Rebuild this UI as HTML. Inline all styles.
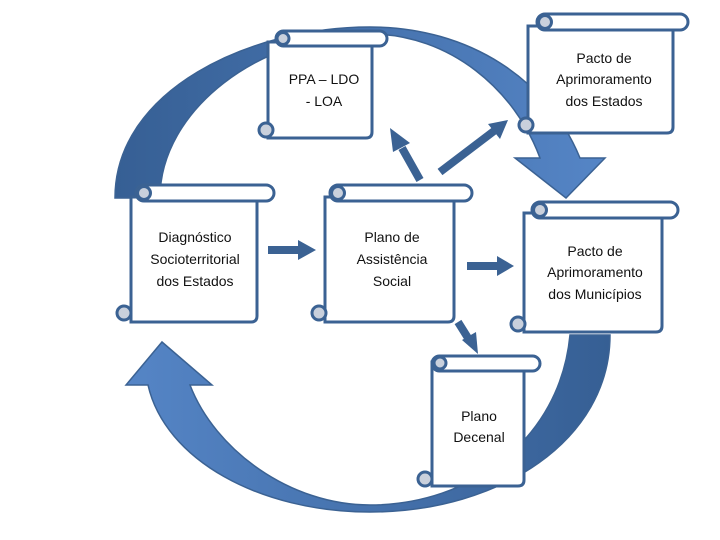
<!DOCTYPE html>
<html><head><meta charset="utf-8"><style>
body{margin:0;background:#fff;width:720px;height:540px;overflow:hidden}
svg{display:block}
text{font-family:"Liberation Sans",sans-serif;font-size:14px;fill:#111;text-anchor:middle}
</style></head><body>
<svg width="720" height="540" viewBox="0 0 720 540">
<defs>
<linearGradient id="g1" x1="0" x2="1" y1="0" y2="0"><stop offset="0" stop-color="#365f94"/><stop offset="1" stop-color="#5585c6"/></linearGradient>
<linearGradient id="g2" x1="0" x2="1" y1="0" y2="0"><stop offset="0" stop-color="#5585c6"/><stop offset="1" stop-color="#365f94"/></linearGradient>
</defs>
<path d="M115,198 C115,90 250,27 370,27 C470,27 548,80 580,158 L605,158 L566,198 L515,158 L540,158 C515,90 450,34 370,34 C260,34 160,110 160,198 Z" fill="url(#g1)" stroke="#3b6293" stroke-width="1.5"/>
<path d="M162,342 L212,385 L190,385 C215,450 290,505 370,505 C470,505 560,440 570,335 L610,335 C610,440 500,512 370,512 C260,512 165,460 148,385 L126,385 Z" fill="url(#g2)" stroke="#3b6293" stroke-width="1.5"/>
<g fill="#3b6293" stroke="none">
<polygon points="268,246 298,246 298,240 316,250 298,260 298,254 268,254"/>
<polygon points="467,262 497,262 497,256 514,266 497,276 497,270 467,270"/>
</g>
<g stroke="#3b6293" stroke-width="8" fill="none">
<line x1="420" y1="180" x2="402" y2="148"/>
<line x1="440" y1="172" x2="494" y2="131"/>
<line x1="458" y1="322" x2="468" y2="338"/>
</g>
<g fill="#3b6293">
<polygon points="390,128 410,143 393,152"/>
<polygon points="508,120 500,139 488,124"/>
<polygon points="478,354 462,340 476,332"/>
</g>
<g stroke="#3b6293" stroke-width="3" fill="#fff">
<path d="M268,42 H372 V132 Q372,138 366,138 H268 Z"/><rect x="276" y="31" width="111" height="15" rx="7.5"/><circle cx="283" cy="38.5" r="6" fill="#c9d0dc"/><circle cx="266" cy="130" r="7" fill="#c9d0dc"/>
<path d="M528,26 H673 V127 Q673,133 667,133 H528 Z"/><rect x="537" y="14" width="151" height="16" rx="8"/><circle cx="545" cy="22" r="6.5" fill="#c9d0dc"/><circle cx="526" cy="125" r="7" fill="#c9d0dc"/>
<path d="M131,197 H257 V316 Q257,322 251,322 H131 Z"/><rect x="136" y="185" width="138" height="16" rx="8"/><circle cx="144" cy="193" r="6.5" fill="#c9d0dc"/><circle cx="124" cy="313" r="7" fill="#c9d0dc"/>
<path d="M325,197 H454 V316 Q454,322 448,322 H325 Z"/><rect x="330" y="185" width="142" height="16" rx="8"/><circle cx="338" cy="193" r="6.5" fill="#c9d0dc"/><circle cx="319" cy="313" r="7" fill="#c9d0dc"/>
<path d="M524,213 H662 V326 Q662,332 656,332 H524 Z"/><rect x="532" y="202" width="146" height="16" rx="8"/><circle cx="540" cy="210" r="6.5" fill="#c9d0dc"/><circle cx="518" cy="324" r="7" fill="#c9d0dc"/>
<path d="M432,362 H524 V480 Q524,486 518,486 H432 Z"/><rect x="432" y="356" width="108" height="15" rx="7.5"/><circle cx="440" cy="363" r="6" fill="#c9d0dc"/><circle cx="425" cy="479" r="7" fill="#c9d0dc"/>
</g>
<text x="324" y="84">PPA – LDO</text><text x="324" y="106">- LOA</text>
<text x="604" y="63">Pacto de</text><text x="604" y="84">Aprimoramento</text><text x="604" y="106">dos Estados</text>
<text x="195" y="242">Diagnóstico</text><text x="195" y="264">Socioterritorial</text><text x="195" y="286">dos Estados</text>
<text x="392" y="242">Plano de</text><text x="392" y="264">Assistência</text><text x="392" y="286">Social</text>
<text x="595" y="256">Pacto de</text><text x="595" y="277">Aprimoramento</text><text x="595" y="299">dos Municípios</text>
<text x="479" y="421">Plano</text><text x="479" y="442">Decenal</text>
</svg>
</body></html>
